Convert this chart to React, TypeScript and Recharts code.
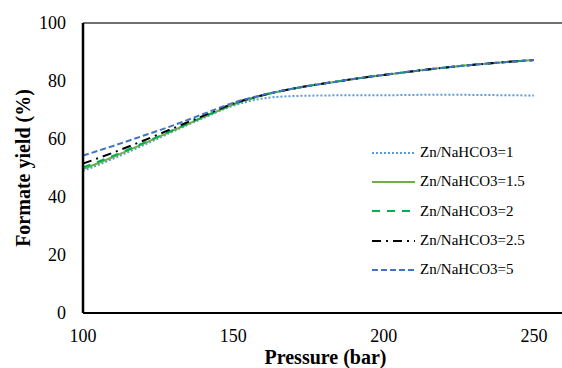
import React from "react";
import { LineChart, Line, XAxis, YAxis, ReferenceLine } from "recharts";

const pressure = [100, 110, 120, 130, 140, 150, 160, 170, 180, 190, 200, 210, 220, 230, 240, 250];
const yieldR1 = [49.0, 53.2, 57.8, 62.6, 67.2, 71.5, 74.0, 74.8, 75.0, 75.1, 75.1, 75.2, 75.3, 75.2, 75.1, 75.0];
const yieldR15 = [49.6, 53.8, 58.3, 63.0, 67.5, 71.9, 75.1, 77.4, 79.1, 80.7, 82.1, 83.4, 84.6, 85.6, 86.5, 87.2];
const yieldR2 = [50.2, 54.2, 58.6, 63.1, 67.6, 72.0, 75.2, 77.4, 79.1, 80.7, 82.1, 83.4, 84.6, 85.6, 86.5, 87.2];
const yieldR25 = [51.5, 55.3, 59.4, 63.7, 68.0, 72.2, 75.2, 77.4, 79.1, 80.7, 82.1, 83.4, 84.6, 85.6, 86.5, 87.2];
const yieldR5 = [54.3, 57.6, 61.1, 64.7, 68.6, 72.5, 75.3, 77.4, 79.1, 80.7, 82.1, 83.4, 84.6, 85.6, 86.5, 87.2];

const xTicks = [100, 150, 200, 250];
const yTicks = [0, 20, 40, 60, 80, 100];

const seriesDefs = [
  { key: "r1", name: "Zn/NaHCO3=1", values: yieldR1, color: "#5B9BD5", dash: "2 2", width: 2 },
  { key: "r15", name: "Zn/NaHCO3=1.5", values: yieldR15, color: "#70AD47", dash: undefined, width: 2 },
  { key: "r2", name: "Zn/NaHCO3=2", values: yieldR2, color: "#00B050", dash: "8 7", width: 2 },
  { key: "r25", name: "Zn/NaHCO3=2.5", values: yieldR25, color: "#000000", dash: "9 5 2 5", width: 2 },
  { key: "r5", name: "Zn/NaHCO3=5", values: yieldR5, color: "#4472C4", dash: "6 3", width: 2 },
];

const data = pressure.map((p, i) => {
  const row: Record<string, number> = { p };
  seriesDefs.forEach((s) => {
    row[s.key] = s.values[i];
  });
  return row;
});

const FONT = '"Liberation Serif", "Times New Roman", serif';

const LegendBox = () => (
  <div
    style={{
      position: "absolute",
      left: 372,
      top: 138,
      fontFamily: FONT,
      fontSize: 15,
      color: "#000",
      lineHeight: "normal",
    }}
  >
    {seriesDefs.map((s) => (
      <div key={s.key} style={{ display: "flex", alignItems: "center", height: 29.3 }}>
        <svg width={43} height={6} style={{ marginRight: 5 }}>
          <line x1={0} y1={3} x2={43} y2={3} stroke={s.color} strokeWidth={2} strokeDasharray={s.dash} />
        </svg>
        <span style={{ whiteSpace: "nowrap" }}>{s.name}</span>
      </div>
    ))}
  </div>
);

export default function App() {
  return (
    <div style={{ position: "relative", width: 562, height: 368, overflow: "hidden", background: "#fff" }}>
      <style>{"body{margin:0}"}</style>
      <LineChart
        width={570}
        height={368}
        data={data}
        margin={{ top: 23, right: 6, bottom: 0, left: 0 }}
        style={{ fontFamily: FONT }}
      >
        <XAxis
          dataKey="p"
          type="number"
          domain={[100, 260]}
          ticks={xTicks}
          allowDataOverflow
          height={55}
          tickLine={false}
          tickSize={6}
          tickMargin={10}
          axisLine={{ stroke: "#000", strokeWidth: 2 }}
          tick={{ fill: "#000", fontSize: 18, fontFamily: FONT }}
          label={{
            content: (props: any) => {
              const vb = props.viewBox || {};
              return (
                <text
                  x={vb.x + vb.width / 2 + 2}
                  y={364}
                  textAnchor="middle"
                  fontFamily={FONT}
                  fontSize={20}
                  fontWeight="bold"
                  fill="#000"
                >
                  Pressure (bar)
                </text>
              );
            },
          }}
        />
        <YAxis
          type="number"
          domain={[0, 100]}
          ticks={yTicks}
          width={83}
          tickLine={false}
          tickSize={6}
          tickMargin={11}
          axisLine={{ stroke: "#000", strokeWidth: 2.5 }}
          tick={{ fill: "#000", fontSize: 18, fontFamily: FONT }}
          label={{
            content: (props: any) => {
              const vb = props.viewBox || {};
              const cy = vb.y + vb.height / 2;
              return (
                <text
                  x={23}
                  y={cy}
                  transform={`rotate(-90, 23, ${cy})`}
                  textAnchor="middle"
                  dominantBaseline="central"
                  fontFamily={FONT}
                  fontSize={20}
                  fontWeight="bold"
                  fill="#000"
                >
                  Formate yield (%)
                </text>
              );
            },
          }}
        />
        <ReferenceLine y={100} stroke="#404040" strokeWidth={1.5} />
        {seriesDefs.map((s) => (
          <Line
            key={s.key}
            type="monotone"
            dataKey={s.key}
            name={s.name}
            stroke={s.color}
            strokeWidth={s.width}
            strokeDasharray={s.dash}
            dot={false}
            activeDot={false}
            isAnimationActive={false}
          />
        ))}
      </LineChart>
      <LegendBox />
    </div>
  );
}
